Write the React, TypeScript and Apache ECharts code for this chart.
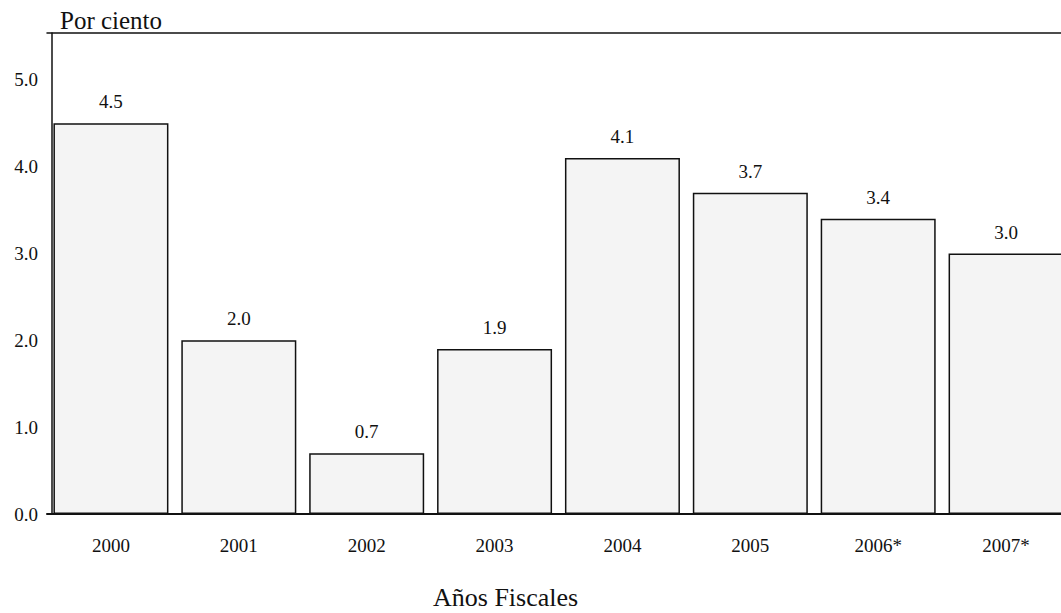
import React, { useEffect, useRef } from "react";
import * as echarts from "echarts";

const categories = ["2000", "2001", "2002", "2003", "2004", "2005", "2006*", "2007*"];
const values = [4.5, 2.0, 0.7, 1.9, 4.1, 3.7, 3.4, 3.0];
const yTicks = [0, 1, 2, 3, 4, 5];

const FONT = "Liberation Serif, DejaVu Serif, serif";

export default function App() {
  const ref = useRef<HTMLDivElement>(null);
  useEffect(() => {
    if (!ref.current) return;
    const chart = echarts.init(ref.current, null, { renderer: "svg" });
    chart.setOption({
      animation: false,
      backgroundColor: "#ffffff",
      title: [
        {
          text: "Por ciento",
          left: 60,
          top: 8,
          padding: 0,
          textStyle: { fontFamily: FONT, fontSize: 25, fontWeight: "normal", color: "#111" },
        },
        {
          text: "Años Fiscales",
          left: 433,
          top: 584,
          padding: 0,
          textStyle: { fontFamily: FONT, fontSize: 26, fontWeight: "normal", color: "#111" },
        },
      ],
      grid: {
        left: 47,
        top: 33,
        width: 1023,
        height: 481,
        containLabel: false,
        outerBoundsMode: "none",
      },
      xAxis: [
        {
          type: "category",
          data: categories,
          position: "bottom",
          axisLine: { show: true, lineStyle: { color: "#111", width: 2 } },
          axisTick: { show: false },
          axisLabel: { fontFamily: FONT, fontSize: 19, color: "#111", margin: 22 },
        },
        {
          type: "category",
          data: categories,
          position: "top",
          axisLine: { show: true, lineStyle: { color: "#111", width: 1.5 } },
          axisTick: { show: false },
          axisLabel: { show: false },
        },
      ],
      yAxis: {
        type: "value",
        min: yTicks[0],
        max: 5.54,
        interval: 1,
        offset: -5,
        axisLine: { show: true, lineStyle: { color: "#111", width: 1.5 } },
        axisTick: { show: false },
        splitLine: { show: false },
        axisLabel: {
          fontFamily: FONT,
          fontSize: 19,
          color: "#111",
          margin: 14,
          showMaxLabel: false,
          formatter: (v: number) => (yTicks.includes(v) ? v.toFixed(1) : ""),
        },
      },
      series: [
        {
          type: "bar",
          data: values,
          barWidth: 115,
          itemStyle: { color: "#f4f4f4", borderColor: "#111", borderWidth: 1.5 },
          label: {
            show: true,
            position: "top",
            distance: 12,
            fontFamily: FONT,
            fontSize: 19,
            color: "#111",
            formatter: (p: any) => Number(p.value).toFixed(1),
          },
        },
      ],
    });
    return () => chart.dispose();
  }, []);
  return (
    <div
      ref={ref}
      style={{ position: "fixed", left: 0, top: 0, width: 1061, height: 613, background: "#fff" }}
    />
  );
}
